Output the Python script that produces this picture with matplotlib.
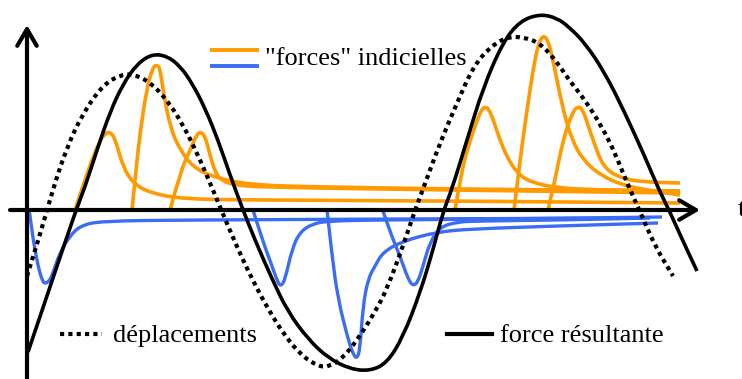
import matplotlib.pyplot as plt
from matplotlib.path import Path
from matplotlib.patches import PathPatch

plt.rcParams['font.family'] = ['Liberation Serif', 'DejaVu Serif']

# force résultante (trait plein)
force_t = [1, 25, 49, 58, 70, 83, 96, 110, 125, 140, 153, 165, 178, 191, 203, 216,
           228, 245, 261, 281, 301, 323, 343, 360, 376, 393, 406, 416, 425, 440, 456,
           476, 493, 513, 530, 542, 558, 578, 598, 618, 632, 642, 655, 670]
force_v = [-142, -71, 0, 23, 60, 98, 126, 146, 156, 154, 144, 127, 102, 70, 35, 0,
           -30, -69, -102, -129, -148, -159, -161, -153, -127, -83, -40, -2, 21, 70, 122,
           168, 189, 196, 192, 183, 167, 137, 97, 53, 20, 0, -29, -61]

# déplacements (pointillés)
depl_t = [0, 13, 26, 40, 56, 76, 93, 106, 123, 140, 155, 171, 186, 198, 211, 225,
          241, 258, 275, 291, 301, 315, 331, 348, 360, 376, 386, 396, 413, 430, 446,
          463, 480, 496, 513, 530, 542, 558, 575, 588, 600, 615, 628, 646]
depl_v = [-66, -25, 21, 63, 97, 125, 135, 136, 128, 110, 87, 55, 20, -9, -39, -69,
          -99, -126, -146, -156, -157, -149, -129, -102, -79, -36, -6, 21, 67, 107, 143,
          163, 173, 173, 167, 148, 130, 110, 83, 57, 27, -6, -36, -66]

# "forces" indicielles positives (orange)
pos_t = [
    [48, 53, 63, 73, 79, 83, 88, 96, 106, 123, 156, 223, 423, 653],
    [105, 109, 113, 120, 126, 130, 133, 136, 143, 153, 166, 186, 223, 293, 423, 653],
    [143, 153, 163, 170, 174, 178, 183, 188, 195, 208, 233, 348, 653],
    [428, 434, 440, 450, 455, 458, 462, 467, 473, 480, 490, 503, 530, 573, 653],
    [487, 493, 500, 506, 511, 516, 521, 526, 536, 545, 556, 573, 600, 653],
    [521, 528, 536, 545, 551, 556, 561, 566, 576, 593, 616, 653],
]
pos_v = [
    [0, 15, 45, 70, 77, 78, 72, 43, 27, 17, 11, 10, 9, 7],
    [0, 40, 77, 123, 143, 145, 142, 120, 83, 60, 43, 33, 25, 23, 21, 19],
    [0, 37, 60, 76, 78, 74, 55, 38, 29, 25, 23, 21, 17],
    [0, 35, 60, 90, 101, 103, 101, 88, 70, 53, 37, 28, 22, 20, 19],
    [0, 50, 100, 140, 165, 175, 170, 150, 100, 70, 50, 35, 23, 15],
    [0, 30, 70, 97, 104, 100, 85, 70, 43, 32, 28, 27],
]

# "forces" indicielles négatives (bleu)
neg_t = [
    [2, 3, 6, 11, 15, 18, 22, 25, 33, 43, 53, 73, 163, 373, 618],
    [226, 235, 245, 251, 254, 258, 265, 273, 285, 301, 348, 473, 635],
    [300, 305, 311, 321, 326, 330, 333, 336, 341, 348, 356, 376, 410, 443, 530, 631],
    [356, 363, 373, 381, 386, 391, 396, 403, 413, 430, 450, 533, 623],
]
neg_v = [
    [0, -5, -29, -56, -70, -74, -71, -66, -42, -26, -16, -11, -10, -9, -8],
    [0, -29, -56, -73, -76, -70, -39, -22, -14, -11, -10, -9, -7],
    [0, -46, -89, -129, -144, -149, -139, -96, -69, -56, -42, -31, -22, -19, -16, -13],
    [-1, -22, -46, -69, -76, -72, -56, -32, -17, -12, -11, -10, -8],
]

orange = '#ff9a00'
blue = '#3a6cf4'


def smooth(t, v):
    # courbe lissée (béziers quadratiques entre les milieux des segments)
    pts = list(zip(t, v))
    verts = [pts[0]]
    codes = [Path.MOVETO]
    for i in range(1, len(pts) - 1):
        mid = ((pts[i][0] + pts[i + 1][0]) / 2, (pts[i][1] + pts[i + 1][1]) / 2)
        verts += [pts[i], mid]
        codes += [Path.CURVE3, Path.CURVE3]
    verts.append(pts[-1])
    codes.append(Path.LINETO)
    return Path(verts, codes)


def courbe(ax, t, v, **kw):
    ax.add_patch(PathPatch(smooth(t, v), fill=False, joinstyle='round', **kw))


fig = plt.figure(figsize=(7.42, 3.79), dpi=100)
ax = fig.add_axes([0, 0, 1, 1])
ax.set_xlim(-27, 715)
ax.set_ylim(-169, 210)
ax.axis('off')

for t, v in zip(pos_t, pos_v):
    courbe(ax, t, v, edgecolor=orange, lw=2.6, capstyle='butt')
for t, v in zip(neg_t, neg_v):
    courbe(ax, t, v, edgecolor=blue, lw=2.4, capstyle='butt')

# axes fléchés
arrow = dict(arrowstyle='->,head_length=1.2,head_width=0.7', lw=3, color='black',
             shrinkA=0, shrinkB=0)
ax.annotate('', xy=(673, 0), xytext=(-17, 0), arrowprops=arrow)
ax.annotate('', xy=(0, 185), xytext=(0, -175), arrowprops=arrow)

courbe(ax, depl_t, depl_v, edgecolor='black', lw=3, linestyle=(0, (1, 1)), capstyle='butt')
courbe(ax, force_t, force_v, edgecolor='black', lw=2.6)

ax.text(0.9946, 0.446, 't', transform=ax.transAxes, fontsize=19, va='center', ha='left')

# légendes
tr = ax.transAxes
ax.plot([0.2857, 0.3464], [0.868, 0.868], color=orange, lw=2.8, transform=tr)
ax.plot([0.2857, 0.3464], [0.826, 0.826], color=blue, lw=2.8, transform=tr)
ax.text(0.357, 0.8285, '"forces" indicielles', transform=tr, fontsize=19, va='baseline')

ax.plot([0.0809, 0.1375], [0.1187, 0.1187], color='black', lw=3,
        linestyle=(0, (1, 1)), dash_capstyle='butt', transform=tr)
ax.text(0.1523, 0.0976, 'déplacements', transform=tr, fontsize=19, va='baseline')

ax.plot([0.6024, 0.6631], [0.1187, 0.1187], color='black', lw=3, transform=tr)
ax.text(0.674, 0.0976, 'force résultante', transform=tr, fontsize=19, va='baseline')

fig.savefig('out.png', dpi=100)
